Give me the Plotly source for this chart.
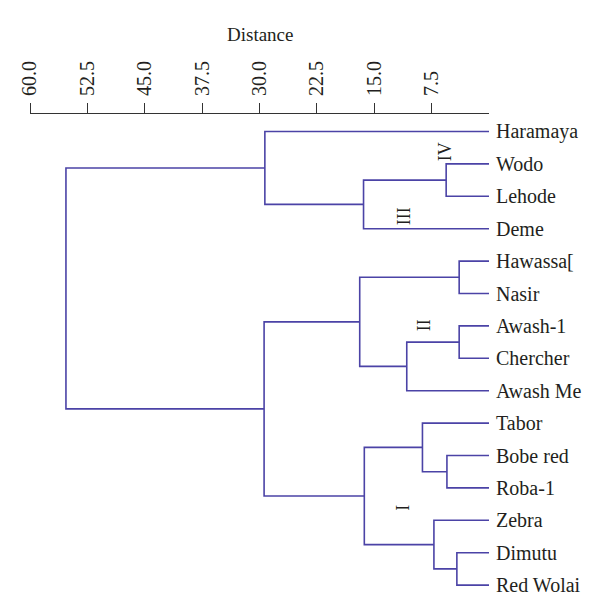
import plotly.graph_objects as go

# ---- data ----
leaves = ["Haramaya", "Wodo", "Lehode", "Deme", "Hawassa[", "Nasir", "Awash-1",
          "Chercher", "Awash Me", "Tabor", "Bobe red", "Roba-1", "Zebra",
          "Dimutu", "Red Wolai"]
# merges: (child A, child B, distance) ; children are leaf names or merge ids "m#"
merge_a = ["Wodo", "m1", "Haramaya", "Hawassa[", "Awash-1", "m5", "m4",
           "Bobe red", "Tabor", "Dimutu", "Zebra", "m9", "m7", "m3"]
merge_b = ["Lehode", "Deme", "m2", "Nasir", "Chercher", "Awash Me", "m6",
           "Roba-1", "m8", "Red Wolai", "m10", "m11", "m12", "m13"]
merge_h = [5.6, 16.4, 29.3, 3.9, 3.9, 10.75, 16.9, 5.5, 8.7, 4.2, 7.2, 16.3, 29.4, 55.3]

tick_vals = [60.0, 52.5, 45.0, 37.5, 30.0, 22.5, 15.0, 7.5]
tick_text = ["60.0", "52.5", "45.0", "37.5", "30.0", "22.5", "15.0", "7.5"]

group_labels = ["IV", "III", "II", "I"]
group_x = [5.75, 11.0, 8.5, 11.2]
group_y = [0.64, 2.62, 5.98, 11.6]

# ---- build dendrogram ----
pos = {name: (0.0, i) for i, name in enumerate(leaves)}
xs, ys = [], []
for k, (a, b, h) in enumerate(zip(merge_a, merge_b, merge_h), start=1):
    ha, ya = pos[a]
    hb, yb = pos[b]
    xs += [ha, h, h, hb, None]
    ys += [ya, ya, yb, yb, None]
    pos[f"m{k}"] = (h, (ya + yb) / 2)

LINE = "#4B43A6"
TXT = "#231f20"
FONT = "Liberation Serif"

fig = go.Figure()
fig.add_trace(go.Scatter(x=xs, y=ys, mode="lines",
                         line=dict(color=LINE, width=1.6),
                         hoverinfo="skip", showlegend=False))

for i, name in enumerate(leaves):
    fig.add_annotation(x=0, y=i, text=name, showarrow=False, xanchor="left",
                       xshift=5, font=dict(family=FONT, size=20, color=TXT))

for lab, gx, gy in zip(group_labels, group_x, group_y):
    fig.add_annotation(x=gx, y=gy, text=lab, showarrow=False, textangle=-90,
                       font=dict(family=FONT, size=18, color=TXT))

fig.add_annotation(text="Distance", xref="paper", yref="paper", x=0.5, y=1,
                   yshift=80, showarrow=False, yanchor="middle",
                   font=dict(family=FONT, size=19, color=TXT))

fig.update_xaxes(range=[60, 0], side="top", tickvals=tick_vals, ticktext=tick_text,
                 tickangle=-90, ticks="outside", ticklen=10, tickwidth=1.2,
                 tickcolor="#333", showline=True, linecolor="#333", linewidth=1.2,
                 showgrid=False, zeroline=False, automargin=False,
                 ticklabelstandoff=3,
                 tickfont=dict(family=FONT, size=20, color=TXT))
fig.update_yaxes(range=[14.46, -0.54], visible=False, showgrid=False, zeroline=False,
                 automargin=False)

# page body has an 8px default margin; size/margins compensate for it
fig.update_layout(width=592, height=604, plot_bgcolor="white", paper_bgcolor="white",
                  margin=dict(l=21.6, r=111, t=105.5, b=12))

fig.write_html("out.html")
